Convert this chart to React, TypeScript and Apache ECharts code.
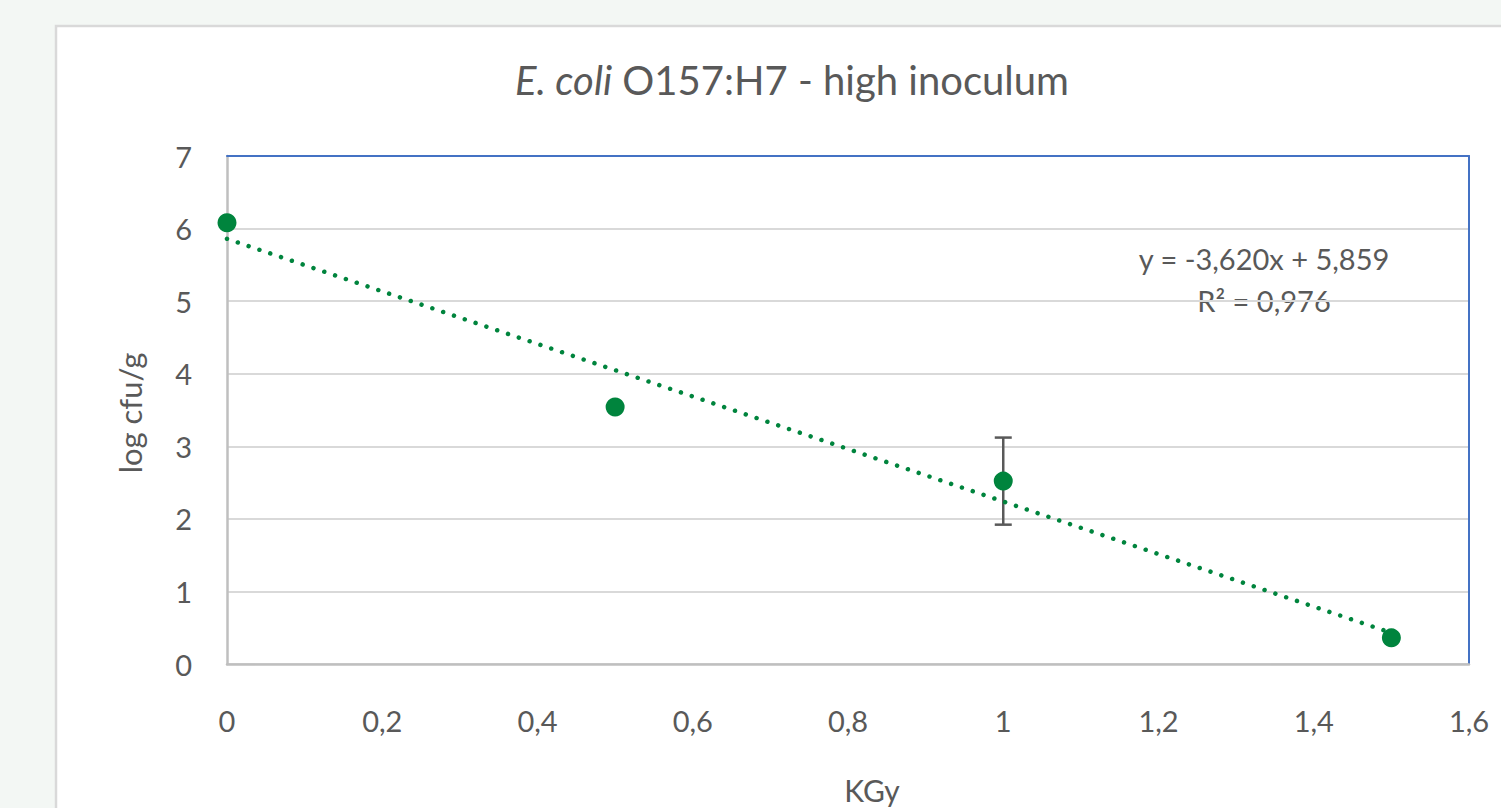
import React, { useEffect, useRef } from "react";
import * as echarts from "echarts";

const doseKGy = [0, 0.5, 1, 1.5];
const logCfu = [6.08, 3.54, 2.52, 0.36];
const errSd = [0, 0.02, 0.6, 0];
const trendSlope = -3.62;
const trendIntercept = 5.859;
const rSquared = 0.976;
const yTicks = [0, 1, 2, 3, 4, 5, 6, 7];
const xTicks = [0, 0.2, 0.4, 0.6, 0.8, 1, 1.2, 1.4, 1.6];

const FONT = "Lato, 'Open Sans', sans-serif";
const GREEN = "#00843d";
const TEXT = "#595959";
const TICK_FS = 29;

const fmt = (v: number, d: number) => v.toFixed(d).replace(".", ",");

export default function App() {
  const ref = useRef<HTMLDivElement>(null);
  useEffect(() => {
    document.body.style.margin = "0";
    const chart = echarts.init(ref.current!, null, { renderer: "svg" });
    const points = doseKGy.map((x, i) => [x, logCfu[i]]);
    const errs = doseKGy
      .map((x, i) => [x, logCfu[i] - errSd[i], logCfu[i] + errSd[i]])
      .filter((_, i) => errSd[i] > 0);
    const x0 = doseKGy[0];
    const x1 = doseKGy[doseKGy.length - 1];
    const trend = [
      [x0, trendIntercept + trendSlope * x0],
      [x1, trendIntercept + trendSlope * x1],
    ];
    const eqText = `y = ${fmt(trendSlope, 3)}x + ${fmt(trendIntercept, 3)}`;
    const r2Text = `R² = ${fmt(rSquared, 3)}`;
    const hiddenAxis = {
      type: "value",
      axisLine: { show: true, onZero: false, lineStyle: { color: "#4472c4", width: 2 } },
      axisTick: { show: false },
      axisLabel: { show: false },
      splitLine: { show: false },
    };
    chart.setOption({
      animation: false,
      backgroundColor: "#f3f7f4",
      textStyle: { fontFamily: FONT },
      grid: { left: 227, top: 156, right: 32, bottom: 144 },
      graphic: [
        {
          type: "rect",
          z: -10,
          silent: true,
          shape: { x: 56, y: 26, width: 1600, height: 1000 },
          style: { fill: "#ffffff", stroke: "#d9d9d9", lineWidth: 2.5 },
        },
        {
          type: "text",
          x: 792,
          y: 80,
          style: {
            text: "{i|E. coli} O157:H7 - high inoculum",
            align: "center",
            verticalAlign: "middle",
            fill: TEXT,
            font: `40px ${FONT}`,
            rich: {
              i: { fontStyle: "italic", fontSize: 40, fontFamily: FONT, fill: TEXT },
            },
          } as any,
        },
        {
          type: "text",
          x: 872,
          y: 790,
          style: {
            text: "KGy",
            align: "center",
            verticalAlign: "middle",
            fill: TEXT,
            font: `30px ${FONT}`,
          },
        },
        {
          type: "text",
          x: 130,
          y: 413,
          rotation: Math.PI / 2,
          style: {
            text: "log cfu/g",
            align: "center",
            verticalAlign: "middle",
            fill: TEXT,
            font: `31px ${FONT}`,
          },
        },
        {
          type: "text",
          x: 1264,
          y: 258,
          style: {
            text: eqText,
            align: "center",
            verticalAlign: "middle",
            fill: TEXT,
            font: `29px ${FONT}`,
          },
        },
        {
          type: "text",
          x: 1264,
          y: 300,
          style: {
            text: r2Text,
            align: "center",
            verticalAlign: "middle",
            fill: TEXT,
            font: `29px ${FONT}`,
          },
        },
      ],
      xAxis: [
        {
          type: "value",
          min: xTicks[0],
          max: xTicks[xTicks.length - 1],
          interval: 0.2,
          axisLine: { show: true, onZero: false, lineStyle: { color: "#bfbfbf", width: 2.5 } },
          axisTick: { show: false },
          splitLine: { show: false },
          axisLabel: {
            margin: 42,
            color: TEXT,
            fontSize: TICK_FS,
            fontFamily: FONT,
            formatter: (v: number) => String(+v.toFixed(1)).replace(".", ","),
          },
        },
        { ...hiddenAxis, position: "top", min: xTicks[0], max: xTicks[xTicks.length - 1] },
      ],
      yAxis: [
        {
          type: "value",
          min: yTicks[0],
          max: yTicks[yTicks.length - 1],
          interval: 1,
          axisLine: { show: true, lineStyle: { color: "#bfbfbf", width: 2.5 } },
          axisTick: { show: false },
          splitLine: { show: true, lineStyle: { color: "#d9d9d9", width: 2 } },
          axisLabel: { margin: 35, color: TEXT, fontSize: TICK_FS, fontFamily: FONT },
        },
        { ...hiddenAxis, position: "right", min: yTicks[0], max: yTicks[yTicks.length - 1] },
      ],
      series: [
        {
          type: "custom",
          z: 3,
          data: errs,
          renderItem: (params: any, api: any) => {
            const x = api.value(0);
            const lo = api.coord([x, api.value(1)]);
            const hi = api.coord([x, api.value(2)]);
            const hw = 8.5;
            const style = { stroke: "#595959", lineWidth: 2.5, fill: "none" };
            return {
              type: "group",
              children: [
                { type: "line", shape: { x1: lo[0], y1: lo[1], x2: hi[0], y2: hi[1] }, style },
                { type: "line", shape: { x1: hi[0] - hw, y1: hi[1], x2: hi[0] + hw, y2: hi[1] }, style },
                { type: "line", shape: { x1: lo[0] - hw, y1: lo[1], x2: lo[0] + hw, y2: lo[1] }, style },
              ],
            };
          },
        },
        {
          type: "line",
          z: 4,
          data: trend,
          symbol: "none",
          lineStyle: { color: GREEN, width: 4.5, type: [0.01, 11.4], cap: "round" },
        },
        {
          type: "scatter",
          z: 5,
          data: points,
          symbol: "circle",
          symbolSize: 19,
          itemStyle: { color: GREEN, opacity: 1 },
        },
      ],
    });
    return () => chart.dispose();
  }, []);
  return <div ref={ref} style={{ width: 1501, height: 808 }} />;
}
